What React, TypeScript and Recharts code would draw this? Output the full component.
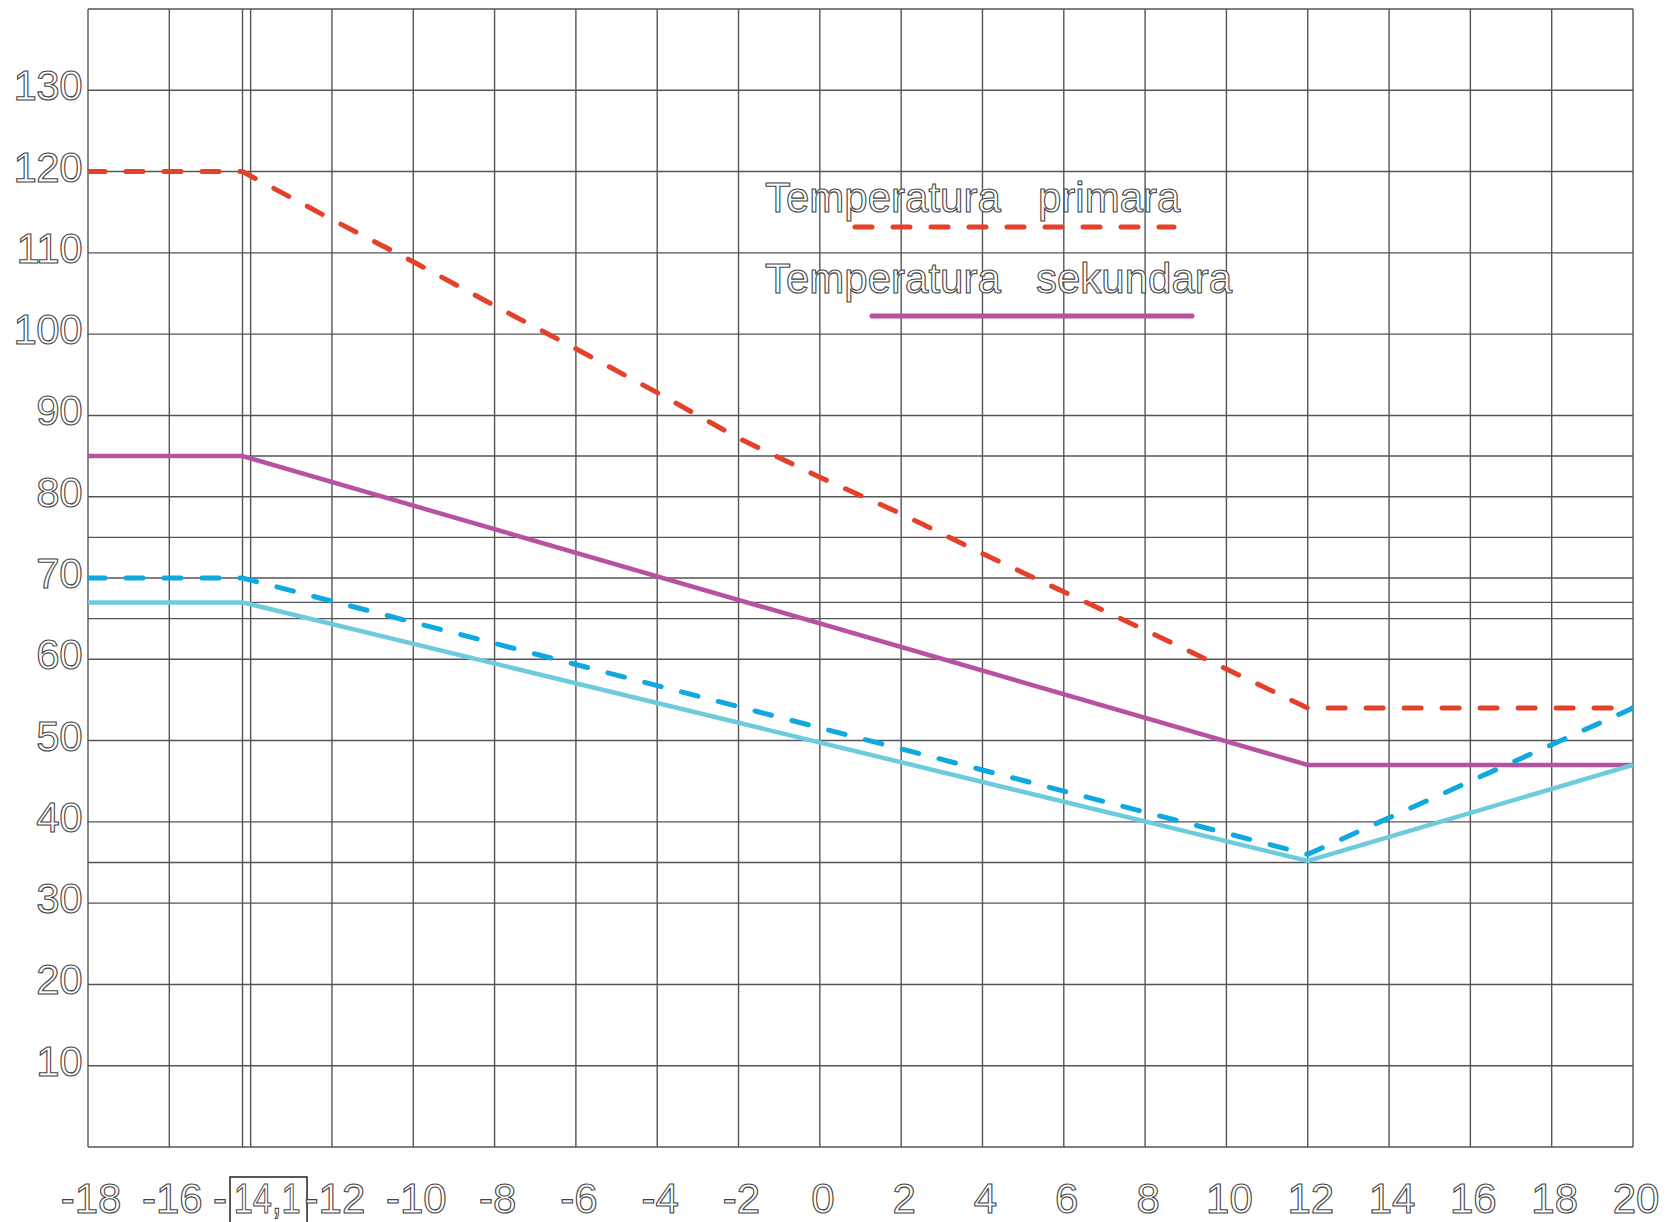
import React from 'react';
import { LineChart, Line, XAxis, YAxis, CartesianGrid } from 'recharts';

// x positions (outdoor temperature) where the curves bend
const xBreaks = [-18, -14.2, 12, 20];
const secondarySupply = [85, 85, 47, 47];
const primaryReturn = [70, 70, 36, 54];
const secondaryReturn = [67, 67, 35.2, 47];

const xPrimary = [-18, -14.2, -12, -10, -8, -6, -4, -2, 0, 2, 4, 6, 8, 10, 12, 20];
const primarySupply = [120, 120, 114.1, 108.9, 103.5, 98.2, 92.8, 87.2, 82.4, 77.9, 73.0, 68.3, 63.6, 58.8, 54, 54];

const xTicks = [-18, -16, -14, -12, -10, -8, -6, -4, -2, 0, 2, 4, 6, 8, 10, 12, 14, 16, 18, 20];
const yTicks = [10, 20, 30, 40, 50, 60, 70, 80, 90, 100, 110, 120, 130];
const gridY = [0, 10, 20, 30, 35, 40, 50, 60, 65, 67, 70, 75, 80, 85, 90, 100, 110, 120, 130, 140];
const gridX = [...xTicks, -14.2];

const legendPrimary = ['Temperatura', 'primara'];
const legendSecondary = ['Temperatura', 'sekundara'];

const toPoints = (xs: number[], ys: number[]) => xs.map((x, i) => ({ x, y: ys[i] }));

const W = 1673;
const H = 1222;
const FONT = '"Liberation Sans", Arial, sans-serif';
const outline = { fill: '#fff', stroke: '#444', strokeWidth: 1.1 };

const YTick = (props: any) => {
  const { x, y, payload } = props;
  return (
    <text x={x} y={y + 10} textAnchor="end" fontSize={42} fontFamily={FONT} letterSpacing={-0.5} {...outline}>
      {payload.value}
    </text>
  );
};

const XTick = (props: any) => {
  const { x, y, payload } = props;
  if (payload.value === -14) {
    return (
      <g>
        <text x={x - 30.6} y={y + 66} textAnchor="middle" fontSize={42} fontFamily={FONT} {...outline}>
          -
        </text>
        <rect x={x - 20.6} y={y + 30} width={77} height={60} fill="none" stroke="#222" strokeWidth={1.5} />
        <text
          x={x - 17}
          y={y + 66}
          fontSize={42}
          fontFamily={FONT}
          textLength={67}
          lengthAdjust="spacingAndGlyphs"
          {...outline}
        >
          14,1
        </text>
      </g>
    );
  }
  return (
    <text x={x + 3} y={y + 66} textAnchor="middle" fontSize={42} fontFamily={FONT} {...outline}>
      {payload.value}
    </text>
  );
};

const Legend = () => (
  <svg width={W} height={H} style={{ position: 'absolute', left: 0, top: 0, pointerEvents: 'none' }}>
    <text x={765} y={212} fontSize={42} fontFamily={FONT} {...outline}>{legendPrimary[0]}</text>
    <text x={1038} y={212} fontSize={42} fontFamily={FONT} {...outline}>{legendPrimary[1]}</text>
    <line x1={855} y1={227} x2={1174} y2={227} stroke="#e4402a" strokeWidth={5} strokeDasharray="17 21" strokeLinecap="round" />
    <text x={765} y={293} fontSize={42} fontFamily={FONT} {...outline}>{legendSecondary[0]}</text>
    <text x={1036} y={293} fontSize={42} fontFamily={FONT} {...outline}>{legendSecondary[1]}</text>
    <line x1={872} y1={316} x2={1192} y2={316} stroke="#b6529f" strokeWidth={5} strokeLinecap="round" />
  </svg>
);

export default function App() {
  return (
    <div style={{ position: 'relative', width: W, height: H, overflow: 'hidden' }}>
      <style>{'body{margin:0}'}</style>
      <LineChart width={W} height={H} margin={{ top: 9, right: 40, bottom: 0, left: 8 }}>
        <CartesianGrid
          stroke="#555"
          strokeWidth={1.4}
          horizontalValues={gridY}
          verticalValues={gridX}
        />
        <XAxis
          type="number"
          dataKey="x"
          domain={[-18, 20]}
          ticks={xTicks}
          interval={0}
          axisLine={false}
          tickLine={false}
          tickSize={0}
          tickMargin={0}
          height={75}
          tick={<XTick />}
          allowDataOverflow
        />
        <YAxis
          type="number"
          domain={[0, 140]}
          ticks={yTicks}
          interval={0}
          axisLine={false}
          tickLine={false}
          tickSize={0}
          tickMargin={6}
          width={80}
          tick={<YTick />}
          allowDataOverflow
        />
        <Line
          data={toPoints(xPrimary, primarySupply)}
          dataKey="y"
          type="linear"
          stroke="#e4402a"
          strokeWidth={5}
          strokeDasharray="17 21"
          strokeLinecap="round"
          dot={false}
          isAnimationActive={false}
        />
        <Line
          data={toPoints(xBreaks, secondarySupply)}
          dataKey="y"
          type="linear"
          stroke="#b6529f"
          strokeWidth={4.5}
          dot={false}
          isAnimationActive={false}
        />
        <Line
          data={toPoints(xBreaks, primaryReturn)}
          dataKey="y"
          type="linear"
          stroke="#0fa8df"
          strokeWidth={5}
          strokeDasharray="17 21"
          strokeLinecap="round"
          dot={false}
          isAnimationActive={false}
        />
        <Line
          data={toPoints(xBreaks, secondaryReturn)}
          dataKey="y"
          type="linear"
          stroke="#6ccbdd"
          strokeWidth={4.5}
          dot={false}
          isAnimationActive={false}
        />
      </LineChart>
      <Legend />
    </div>
  );
}
